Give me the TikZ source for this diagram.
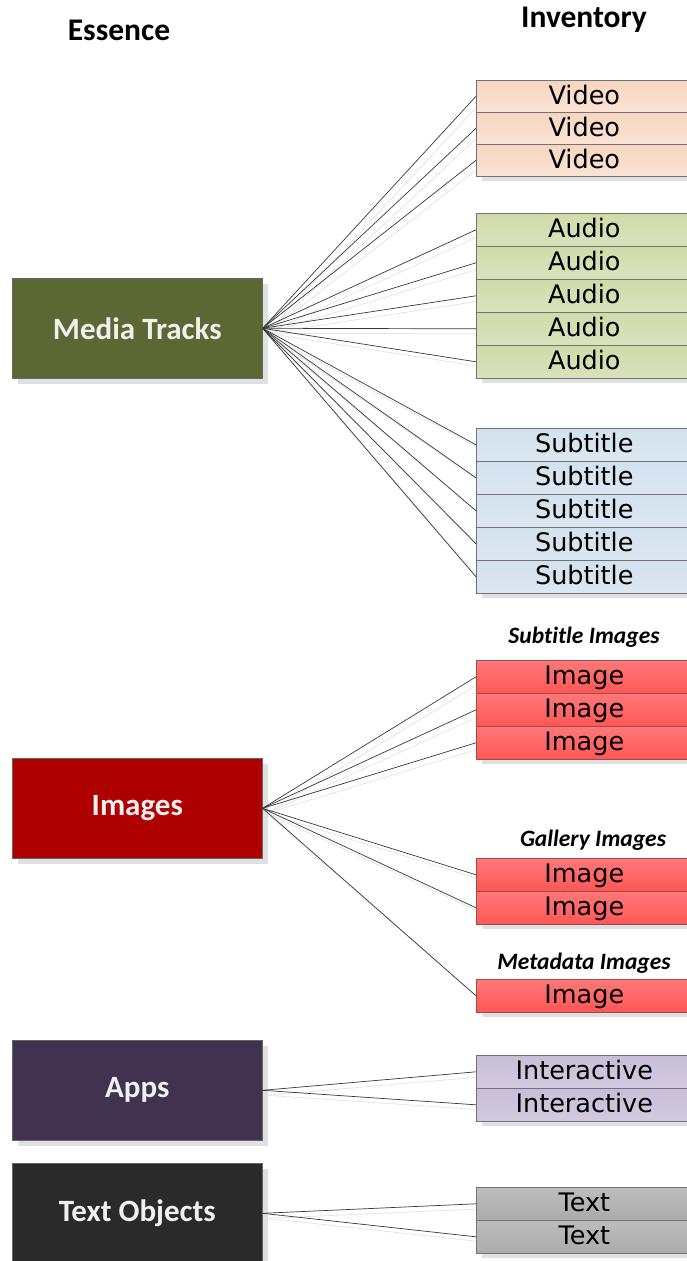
\documentclass[tikz,border=0pt]{standalone}
\usepackage{fontspec}
\setmainfont{Carlito}[Ligatures=NoCommon]
\newfontfamily\boxfont{DejaVu Sans}
\usetikzlibrary{shadows,backgrounds}
\definecolor{mtcol}{HTML}{5B6833}
\definecolor{imcol}{HTML}{AE0000}
\definecolor{apcol}{HTML}{3F3350}
\definecolor{txcol}{HTML}{2A2A2A}
\definecolor{vidA}{HTML}{F6D5BF}
\definecolor{vidB}{HTML}{FAE4D6}
\definecolor{audA}{HTML}{D0DBAA}
\definecolor{audB}{HTML}{D9E2BC}
\definecolor{subA}{HTML}{D3E1EE}
\definecolor{subB}{HTML}{DCE7F2}
\definecolor{imgA}{HTML}{FF7878}
\definecolor{imgB}{HTML}{FF5656}
\definecolor{actA}{HTML}{C9BED9}
\definecolor{actB}{HTML}{D2C9E0}
\definecolor{txtA}{HTML}{BDBDBD}
\definecolor{txtB}{HTML}{ABABAB}
\begin{document}
\begin{tikzpicture}[x=1pt,y=-1pt,
  ess/.style={draw=black!60, line width=0.6pt, minimum width=250pt, minimum height=100pt, inner sep=0pt,
    font=\bfseries\fontsize{31}{34}\selectfont, text=white!94!black, anchor=north west,
    drop shadow={shadow xshift=6pt, shadow yshift=-6pt, fill=black!12, opacity=1}},
  inv/.style={draw=black!55, line width=0.6pt, minimum width=216pt, minimum height=33pt, inner sep=0pt,
    font=\boxfont\fontsize{25.5}{27}\selectfont, anchor=north west, text height=19pt, text depth=3pt,
    drop shadow={shadow xshift=6pt, shadow yshift=-5pt, fill=black!12, opacity=1}},
  vid/.style={inv, minimum height=32pt, top color=vidA, bottom color=vidB},
  aud/.style={inv, top color=audA, bottom color=audB},
  sub/.style={inv, top color=subA, bottom color=subB},
  img/.style={inv, draw=red!45!black!70, top color=imgA, bottom color=imgB},
  act/.style={inv, top color=actA, bottom color=actB},
  txt/.style={inv, top color=txtA, bottom color=txtB},
  conn/.style={draw=black!78, line width=0.7pt},
  cshadow/.style={draw=black!10, line width=0.8pt},
  head/.style={font=\bfseries\fontsize{31.5}{34}\selectfont},
  grp/.style={font=\bfseries\itshape\fontsize{23.5}{26}\selectfont}
]
\useasboundingbox (0,0) rectangle (686,1261);
% headers
\node[head] (hess) at (119,30) {Essence};
\node[head] (hinv) at (584,20) {Inventory};
% essence boxes
\node[ess, fill=mtcol] (mt) at (12,278) {Media Tracks};
\node[ess, fill=imcol] (im) at (12,758) {Images};
\node[ess, fill=apcol] (ap) at (12,1040) {Apps};
\node[ess, fill=txcol] (to) at (12,1163) {Text Objects};
% inventory boxes
\node[vid] (v1) at (476,80) {Video};
\node[vid] (v2) at (476,112) {Video};
\node[vid] (v3) at (476,144) {Video};
\foreach \k in {1,...,5}{
  \node[aud] (a\k) at (476,{213+33*(\k-1)}) {Audio};
}
\foreach \k in {1,...,5}{
  \node[sub] (s\k) at (476,{428+33*(\k-1)}) {Subtitle};
}
\node[grp] (lsi) at (584,637) {Subtitle Images};
\foreach \k in {1,...,3}{
  \node[img] (i\k) at (476,{660+33*(\k-1)}) {Image};
}
\node[grp] (lgi) at (593,840) {Gallery Images};
\node[img] (g1) at (476,858) {Image};
\node[img] (g2) at (476,891) {Image};
\node[grp] (lmi) at (584,963) {Metadata Images};
\node[img] (m1) at (476,979) {Image};
\node[act] (n1) at (476,1055) {Interactive};
\node[act] (n2) at (476,1088) {Interactive};
\node[txt] (t1) at (476,1187) {Text};
\node[txt] (t2) at (476,1220) {Text};
% connectors
\begin{scope}[on background layer]
\foreach \src/\dst in {mt/v1,mt/v2,mt/v3,mt/a1,mt/a2,mt/a3,mt/a4,mt/a5,mt/s1,mt/s2,mt/s3,mt/s4,mt/s5,
  im/i1,im/i2,im/i3,im/g1,im/g2,im/m1,ap/n1,ap/n2,to/t1,to/t2}{
  \draw[cshadow] ([shift={(4pt,-5pt)}]\src.east) -- ([shift={(6pt,-5pt)}]\dst.west);
}
\end{scope}
\foreach \src/\dst in {mt/v1,mt/v2,mt/v3,mt/a1,mt/a2,mt/a3,mt/a4,mt/a5,mt/s1,mt/s2,mt/s3,mt/s4,mt/s5,
  im/i1,im/i2,im/i3,im/g1,im/g2,im/m1,ap/n1,ap/n2,to/t1,to/t2}{
  \draw[conn] (\src.east) -- (\dst.west);
}
\end{tikzpicture}
\end{document}
